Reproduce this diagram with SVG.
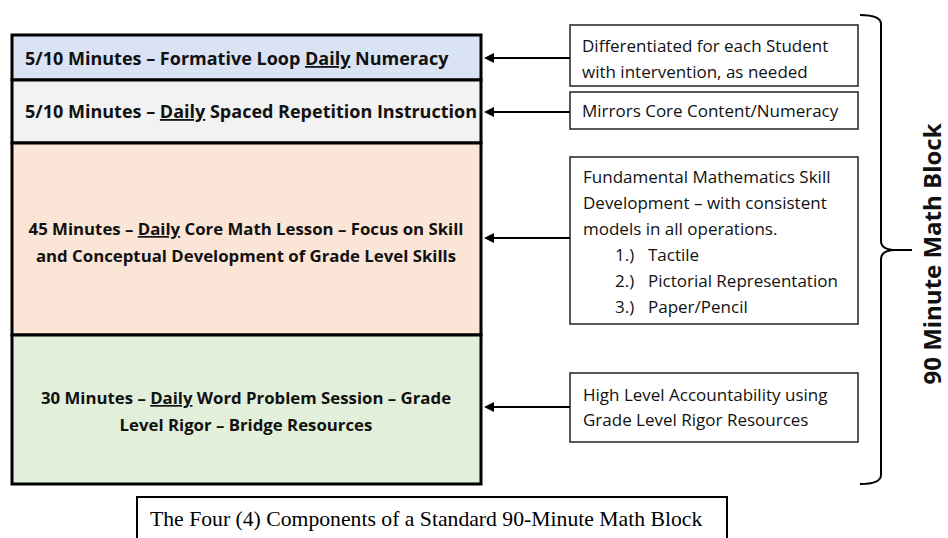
<svg xmlns="http://www.w3.org/2000/svg" width="948" height="538" viewBox="0 0 948 538">
  <style>
    .band { stroke: #000; stroke-width: 3; }
    .main { font-family: "Open Sans", "Liberation Sans", sans-serif; font-weight: bold; font-size: 18px; fill: #111; }
    .mid { font-size: 16.8px; text-anchor: middle; }
    .note { font-family: "Open Sans", "Liberation Sans", sans-serif; font-size: 17px; fill: #111; }
    .box { fill: #fff; stroke: #222; stroke-width: 1.5; }
    .conn { stroke: #000; stroke-width: 2; fill: none; }
    .u { text-decoration: underline; }
  </style>
  <defs>
    <marker id="arrowhead" viewBox="0 0 10 10" refX="1" refY="5" markerWidth="5" markerHeight="5" orient="auto-start-reverse">
      <path d="M0,0 L10,5 L0,10 z" fill="#000"/>
    </marker>
  </defs>

  <rect width="948" height="538" fill="#fff"/>

  <!-- stacked components of the block -->
  <g id="formative-loop">
    <rect class="band" x="12" y="35" width="469" height="45" fill="#dae3f3"/>
    <text class="main" x="25" y="65">5/10 Minutes – Formative Loop <tspan class="u">Daily</tspan> Numeracy</text>
  </g>
  <g id="spaced-repetition">
    <rect class="band" x="12" y="80" width="469" height="63" fill="#f2f2f2"/>
    <text class="main" x="25" y="118">5/10 Minutes – <tspan class="u">Daily</tspan> Spaced Repetition Instruction</text>
  </g>
  <g id="core-lesson">
    <rect class="band" x="12" y="143" width="469" height="192" fill="#fbe5d6"/>
    <text class="main mid" x="246" y="235">45 Minutes – <tspan class="u">Daily</tspan> Core Math Lesson – Focus on Skill</text>
    <text class="main mid" x="246" y="262">and Conceptual Development of Grade Level Skills</text>
  </g>
  <g id="word-problems">
    <rect class="band" x="12" y="335" width="469" height="149" fill="#e2efda"/>
    <text class="main mid" x="246" y="404">30 Minutes – <tspan class="u">Daily</tspan> Word Problem Session – Grade</text>
    <text class="main mid" x="246" y="431">Level Rigor – Bridge Resources</text>
  </g>

  <!-- descriptive notes -->
  <g id="note-differentiated">
    <rect class="box" x="570" y="25" width="288" height="61"/>
    <text class="note" x="582" y="52">Differentiated for each Student</text>
    <text class="note" x="582" y="78">with intervention, as needed</text>
  </g>
  <g id="note-mirrors">
    <rect class="box" x="570" y="92" width="288" height="37"/>
    <text class="note" x="582" y="117">Mirrors Core Content/Numeracy</text>
  </g>
  <g id="note-fundamental">
    <rect class="box" x="570" y="157" width="288" height="167"/>
    <text class="note" x="583" y="183">Fundamental Mathematics Skill</text>
    <text class="note" x="583" y="209">Development – with consistent</text>
    <text class="note" x="583" y="235">models in all operations.</text>
    <text class="note" x="615" y="261">1.)</text><text class="note" x="648" y="261">Tactile</text>
    <text class="note" x="615" y="287">2.)</text><text class="note" x="648" y="287">Pictorial Representation</text>
    <text class="note" x="615" y="313">3.)</text><text class="note" x="648" y="313">Paper/Pencil</text>
  </g>
  <g id="note-accountability">
    <rect class="box" x="570" y="373" width="288" height="69"/>
    <text class="note" x="583" y="401">High Level Accountability using</text>
    <text class="note" x="583" y="426">Grade Level Rigor Resources</text>
  </g>

  <!-- connectors from notes to components -->
  <g id="connectors">
    <line class="conn" x1="570" y1="58" x2="493" y2="58" marker-end="url(#arrowhead)"/>
    <line class="conn" x1="570" y1="112" x2="493" y2="112" marker-end="url(#arrowhead)"/>
    <line class="conn" x1="570" y1="238" x2="493" y2="238" marker-end="url(#arrowhead)"/>
    <line class="conn" x1="570" y1="407" x2="493" y2="407" marker-end="url(#arrowhead)"/>
  </g>

  <!-- brace spanning the whole block -->
  <g id="block-brace">
    <path class="conn" d="M860,15 Q881,15 881,24 L881,241 Q881,250 896,250 L912,250 M896,250 Q881,250 881,259 L881,475 Q881,484 860,484"/>
    <text x="941" y="254" transform="rotate(-90 941 254)" text-anchor="middle" font-family="Open Sans, Liberation Sans, sans-serif" font-weight="bold" font-size="24" fill="#111">90 Minute Math Block</text>
  </g>

  <!-- caption -->
  <g id="caption">
    <path d="M137,540 L137,497 L727,497 L727,540" fill="none" stroke="#000" stroke-width="2"/>
    <text x="150" y="526" font-family="Liberation Serif, Times New Roman, serif" font-size="21.7" fill="#000">The Four (4) Components of a Standard 90-Minute Math Block</text>
  </g>
</svg>
